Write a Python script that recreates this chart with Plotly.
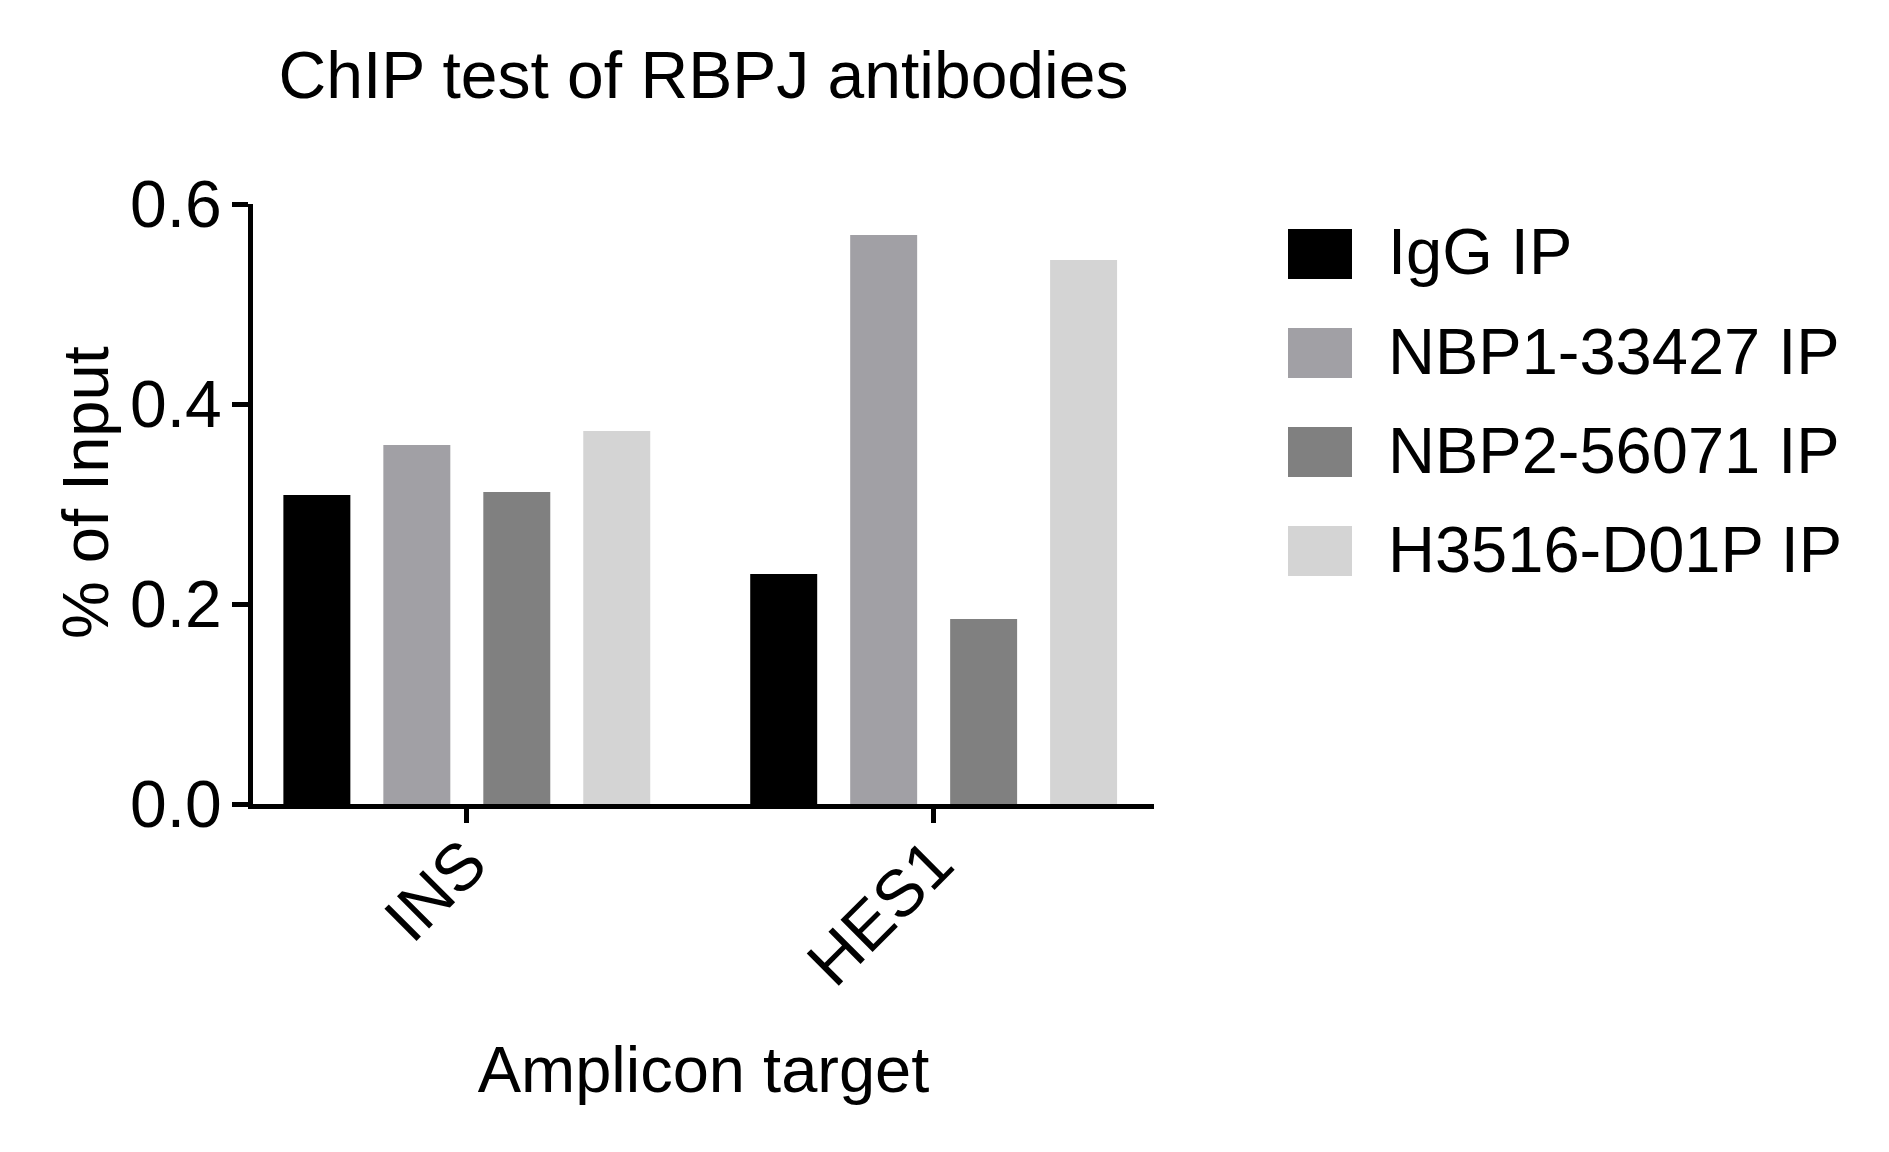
import plotly.graph_objects as go

# данные (% of Input)
targets = ["INS", "HES1"]
series_names = ["IgG IP", "NBP1-33427 IP", "NBP2-56071 IP", "H3516-D01P IP"]
igg = [0.309, 0.230]
nbp1 = [0.359, 0.569]
nbp2 = [0.312, 0.185]
h3516 = [0.373, 0.544]
colors = ["#000000", "#A1A0A5", "#808080", "#D4D4D4"]
y_ticks = [0.0, 0.2, 0.4, 0.6]

FONT = "Liberation Sans, Arial, Helvetica, sans-serif"
# страница сдвигает график на 8px (отступ body), поэтому всё на 8px меньше
W, H = 1881, 1144
L, R, T, B = 245, 1146, 196, 796  # область построения в px


def px_x(x):
    return (x - L) / (R - L)


def px_y(y):
    return (B - y) / (B - T)


fig = go.Figure()
for name, vals, col in zip(series_names, [igg, nbp1, nbp2, h3516], colors):
    fig.add_trace(
        go.Bar(x=targets, y=vals, name=name, marker=dict(color=col, line=dict(width=0)),
               showlegend=False)
    )

fig.update_layout(
    width=W, height=H,
    margin=dict(l=L, r=W - R, t=T, b=H - B, autoexpand=False),
    paper_bgcolor="white", plot_bgcolor="white",
    font=dict(family=FONT, color="black", size=65),
    barmode="group", bargap=0.1435, bargroupgap=0.33,
    title=dict(text="ChIP test of RBPJ antibodies", font=dict(size=66),
               x=0.5, xref="paper", xanchor="center",
               y=1 - 67 / H, yref="container", yanchor="middle"),
)

fig.update_xaxes(
    type="category", categoryorder="array", categoryarray=targets,
    range=[-0.458, 1.472],
    showline=True, linewidth=5, linecolor="black",
    ticks="outside", ticklen=14, tickwidth=5, tickcolor="black",
    tickangle=-45, tickfont=dict(size=66), ticklabelstandoff=-25,
    showgrid=False, zeroline=False,
    title=dict(text="Amplicon target", font=dict(size=65), standoff=50),
)
fig.update_yaxes(
    range=[0, 0.6], tickvals=y_ticks, tickformat=".1f",
    showline=True, linewidth=5, linecolor="black",
    ticks="outside", ticklen=16, tickwidth=5, tickcolor="black",
    tickfont=dict(size=66), ticklabelstandoff=-3,
    showgrid=False, zeroline=False,
)

# подпись оси Y чуть выше центра, как в оригинале
fig.add_annotation(text="% of Input", textangle=-90, xref="paper", yref="paper",
                   x=px_x(77), y=px_y(485), xanchor="center", yanchor="middle",
                   showarrow=False, font=dict(size=65))

# легенда с крупными квадратами, как в оригинале
for i, (name, col) in enumerate(zip(series_names, colors)):
    yc = 246 + 99 * i
    fig.add_shape(type="rect", xref="paper", yref="paper",
                  x0=px_x(1280), x1=px_x(1344), y0=px_y(yc - 25), y1=px_y(yc + 25),
                  fillcolor=col, line=dict(width=0))
    fig.add_annotation(text=name, xref="paper", yref="paper",
                       x=px_x(1378), y=px_y(yc - 2), xanchor="left", yanchor="middle",
                       showarrow=False, font=dict(size=65))

fig.write_html("out.html")
